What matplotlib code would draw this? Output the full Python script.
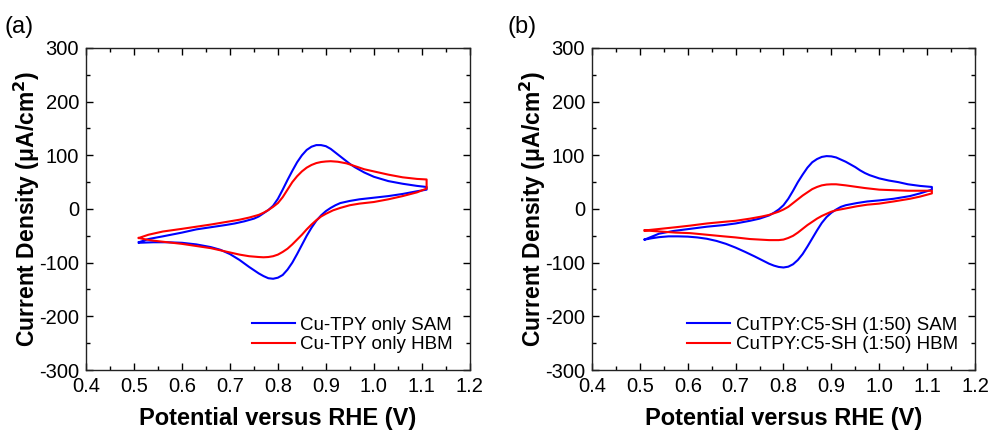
import matplotlib
matplotlib.use("Agg")
import matplotlib.pyplot as plt
from matplotlib.ticker import MultipleLocator

plt.rcParams["font.family"] = ["Liberation Sans", "DejaVu Sans"]

# ── data: panel (a) Cu-TPY only ───────────────────────────────────────────────
A_SAM_FWD_V = [0.51, 0.53, 0.56, 0.60, 0.63, 0.66, 0.69, 0.71, 0.73, 0.75, 0.76, 0.77,
               0.78, 0.79, 0.80, 0.81, 0.82, 0.83, 0.84, 0.85, 0.86, 0.87, 0.88, 0.89,
               0.90, 0.91, 0.92, 0.93, 0.94, 0.95, 0.96, 0.97, 0.98, 0.99, 1.00, 1.03,
               1.06, 1.09, 1.11]
A_SAM_FWD_J = [-62, -56, -51, -44, -38, -34, -30, -27, -23, -18, -14, -8,
               -2, 6, 19, 36, 54, 71, 87, 100, 110, 116, 119, 119,
               117, 112, 105, 98, 91, 84, 78, 73, 68, 64, 60, 52,
               47, 43, 41]
A_SAM_REV_V = [1.11, 1.09, 1.06, 1.03, 1.00, 0.97, 0.95, 0.93, 0.92, 0.91, 0.90, 0.89,
               0.88, 0.87, 0.86, 0.85, 0.84, 0.83, 0.82, 0.81, 0.80, 0.79, 0.78, 0.77,
               0.76, 0.74, 0.72, 0.70, 0.68, 0.66, 0.63, 0.60, 0.57, 0.54, 0.51]
A_SAM_REV_J = [36, 33, 28, 24, 21, 18, 15, 11, 7, 2, -4, -12,
               -22, -35, -50, -67, -84, -100, -113, -123, -128, -130, -129, -125,
               -120, -108, -95, -84, -76, -71, -66, -63, -62, -62, -63]

A_HBM_FWD_V = [0.51, 0.53, 0.56, 0.60, 0.63, 0.66, 0.70, 0.72, 0.74, 0.76, 0.77, 0.78,
               0.79, 0.80, 0.81, 0.82, 0.83, 0.84, 0.85, 0.86, 0.87, 0.88, 0.89, 0.90,
               0.91, 0.925, 0.943, 0.96, 0.98, 1.00, 1.03, 1.06, 1.09, 1.11]
A_HBM_FWD_J = [-54, -48, -42, -37, -33, -29, -23, -20, -16, -11, -7, -2,
               4, 11, 22, 36, 50, 61, 70, 77, 82, 85.5, 87.5, 88.5,
               89, 88, 85, 80, 74, 70, 64, 59, 56, 55]
A_HBM_REV_V = [1.11, 1.09, 1.06, 1.03, 1.00, 0.97, 0.95, 0.93, 0.915, 0.90, 0.89, 0.88,
               0.87, 0.86, 0.85, 0.84, 0.83, 0.82, 0.81, 0.80, 0.79, 0.78, 0.77, 0.76,
               0.74, 0.72, 0.70, 0.66, 0.63, 0.60, 0.57, 0.54, 0.52, 0.51]
A_HBM_REV_J = [38, 31, 24, 18, 13, 10, 7, 2, -2.5, -9, -14, -21,
               -29, -38, -48, -57, -66, -74, -80, -85, -88, -89.5, -90, -89.5,
               -88, -85, -81, -73, -69, -65, -62, -59, -56, -54]

# ── data: panel (b) CuTPY:C5-SH (1:50) ───────────────────────────────────────
B_SAM_FWD_V = [0.51, 0.54, 0.57, 0.605, 0.64, 0.675, 0.70, 0.73, 0.75, 0.76, 0.77, 0.78,
               0.79, 0.80, 0.81, 0.82, 0.83, 0.84, 0.85, 0.86, 0.87, 0.88, 0.89, 0.90,
               0.91, 0.92, 0.93, 0.94, 0.95, 0.96, 0.97, 0.98, 0.99, 1.00, 1.02, 1.04,
               1.06, 1.085, 1.11]
B_SAM_FWD_J = [-57, -46, -41, -37, -33, -30, -27, -22, -18, -15, -12, -7,
               -1, 7, 19, 34, 50, 64, 77, 87, 93, 97, 98.5, 98,
               96, 92, 88, 83, 78, 72, 67, 63, 60, 57, 53, 50,
               46, 43, 41]
B_SAM_REV_V = [1.11, 1.085, 1.064, 1.03, 1.00, 0.975, 0.953, 0.93, 0.92, 0.91, 0.90, 0.89,
               0.88, 0.87, 0.86, 0.85, 0.84, 0.83, 0.82, 0.81, 0.80, 0.79, 0.78, 0.77,
               0.76, 0.75, 0.74, 0.72, 0.70, 0.68, 0.66, 0.64, 0.62, 0.60, 0.58, 0.56,
               0.54, 0.525, 0.51]
B_SAM_REV_J = [36, 29, 24, 19, 16, 14, 11, 7, 4, -1, -7, -15,
               -26, -40, -55, -70, -84, -95, -103, -107.5, -109, -108, -105.5, -102,
               -97.5, -93, -88.5, -80, -72, -65, -59.5, -55.5, -53, -51.5, -51, -51,
               -52.5, -54.5, -57]

B_HBM_FWD_V = [0.51, 0.543, 0.575, 0.605, 0.64, 0.675, 0.70, 0.73, 0.755, 0.77, 0.78, 0.79,
               0.80, 0.81, 0.82, 0.83, 0.84, 0.85, 0.86, 0.87, 0.88, 0.89, 0.90, 0.91,
               0.93, 0.946, 0.97, 1.00, 1.029, 1.06, 1.085, 1.11]
B_HBM_FWD_J = [-40, -37, -34, -31, -27, -24, -22, -18, -14, -11, -8, -5,
               -1, 4, 11, 18, 25, 31, 37, 41, 44, 45.5, 46, 46,
               44, 42, 39, 36, 35, 34, 34, 34]
B_HBM_REV_V = [1.11, 1.085, 1.064, 1.03, 1.00, 0.975, 0.953, 0.93, 0.91, 0.90, 0.89, 0.88,
               0.87, 0.86, 0.85, 0.84, 0.83, 0.82, 0.81, 0.80, 0.79, 0.78, 0.77, 0.75,
               0.73, 0.70, 0.675, 0.64, 0.605, 0.575, 0.543, 0.51]
B_HBM_REV_J = [29, 23, 19, 14, 10, 8, 5, 1, -2.4, -5, -9, -13,
               -18, -24, -30, -37, -44, -50, -54, -57, -58, -58, -58, -57,
               -56, -53, -51, -48, -45, -44, -42, -40]

LABELS_A = ["Cu-TPY only SAM", "Cu-TPY only HBM"]
LABELS_B = ["CuTPY:C5-SH (1:50) SAM", "CuTPY:C5-SH (1:50) HBM"]
PANELS = ["(a)", "(b)"]

XTICKS = [0.4, 0.5, 0.6, 0.7, 0.8, 0.9, 1.0, 1.1, 1.2]
YTICKS = [-300, -200, -100, 0, 100, 200, 300]

BLUE, RED = "#0000ff", "#ff0000"

fig = plt.figure(figsize=(9.89, 4.32), dpi=100)
axa = fig.add_axes([0.087, 0.1435, 0.388, 0.7455])
axb = fig.add_axes([0.5986, 0.1435, 0.3872, 0.7455])

panels = [
    (axa, (A_SAM_FWD_V, A_SAM_FWD_J, A_SAM_REV_V, A_SAM_REV_J),
     (A_HBM_FWD_V, A_HBM_FWD_J, A_HBM_REV_V, A_HBM_REV_J), LABELS_A),
    (axb, (B_SAM_FWD_V, B_SAM_FWD_J, B_SAM_REV_V, B_SAM_REV_J),
     (B_HBM_FWD_V, B_HBM_FWD_J, B_HBM_REV_V, B_HBM_REV_J), LABELS_B),
]

for ax, sam, hbm, labels in panels:
    # forward sweep then reverse sweep -> closed CV loop
    ax.plot(sam[0] + sam[2], sam[1] + sam[3], color=BLUE, lw=1.5,
            label=labels[0], solid_joinstyle="round")
    ax.plot(hbm[0] + hbm[2], hbm[1] + hbm[3], color=RED, lw=1.5,
            label=labels[1], solid_joinstyle="round")

    ax.set_xlim(0.4, 1.2)
    ax.set_ylim(-300, 300)
    ax.set_xticks(XTICKS)
    ax.set_xticklabels([f"{t:.1f}" for t in XTICKS])
    ax.set_yticks(YTICKS)
    ax.set_yticklabels([str(t) for t in YTICKS])
    ax.xaxis.set_minor_locator(MultipleLocator(0.05))
    ax.yaxis.set_minor_locator(MultipleLocator(50))
    ax.tick_params(which="both", direction="in", top=True, right=True,
                   width=1.0, labelsize=14.5, pad=5)
    ax.tick_params(which="major", length=5)
    ax.tick_params(which="minor", length=3)
    for s in ax.spines.values():
        s.set_linewidth(1.0)
        s.set_color("#222")

    ax.set_xlabel("Potential versus RHE (V)", fontsize=17, fontweight="bold", labelpad=8)
    ax.set_ylabel("Current Density (μA/cm$\\mathbf{^2}$)", fontsize=16.5,
                  fontweight="bold")
    ax.yaxis.set_label_coords(-0.114, 0.5)
    ax.legend(loc="lower right", frameon=False, fontsize=13.5, handlelength=2.3,
              handletextpad=0.3, labelspacing=0.12, borderaxespad=0.5)

fig.text(0.005, 0.937, PANELS[0], fontsize=17, va="center", ha="left")
fig.text(0.513, 0.937, PANELS[1], fontsize=17, va="center", ha="left")

fig.savefig("out.png", dpi=100, facecolor="white")
